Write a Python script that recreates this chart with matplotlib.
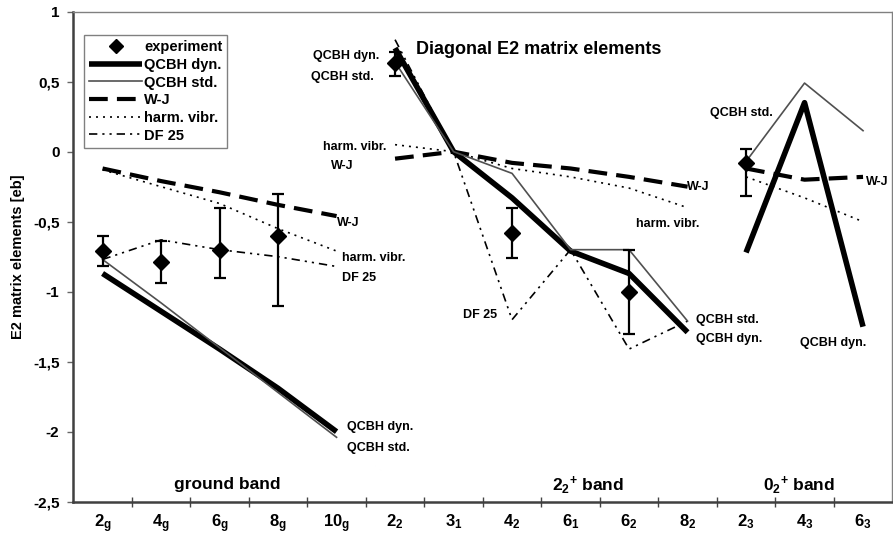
import numpy as np
import matplotlib
matplotlib.use("Agg")
import matplotlib.pyplot as plt
from matplotlib.lines import Line2D

plt.rcParams['font.family'] = ['Liberation Sans', 'DejaVu Sans']
plt.rcParams['font.weight'] = 'bold'
plt.rcParams['mathtext.fontset'] = 'custom'
plt.rcParams['mathtext.rm'] = 'Liberation Sans:bold'
plt.rcParams['mathtext.bf'] = 'Liberation Sans:bold'
plt.rcParams['mathtext.it'] = 'Liberation Sans:bold'

nan = np.nan

# States (category axis)
states = [r'$\mathbf{2}_\mathbf{g}$', r'$\mathbf{4}_\mathbf{g}$', r'$\mathbf{6}_\mathbf{g}$',
          r'$\mathbf{8}_\mathbf{g}$', r'$\mathbf{10}_\mathbf{g}$',
          r'$\mathbf{2}_\mathbf{2}$', r'$\mathbf{3}_\mathbf{1}$', r'$\mathbf{4}_\mathbf{2}$',
          r'$\mathbf{6}_\mathbf{1}$', r'$\mathbf{6}_\mathbf{2}$', r'$\mathbf{8}_\mathbf{2}$',
          r'$\mathbf{2}_\mathbf{3}$', r'$\mathbf{4}_\mathbf{3}$', r'$\mathbf{6}_\mathbf{3}$']

# Band boundaries (index ranges) - lines are not joined across bands
bands = [(0, 5), (5, 11), (11, 14)]
band_names = ['ground band', r'$\mathbf{2}_\mathbf{2}{}^\mathbf{+}$ band', r'$\mathbf{0}_\mathbf{2}{}^\mathbf{+}$ band']
band_label_x = [2.14, 8.30, 11.91]

# Experimental values with asymmetric errors
exp_val = [-0.71, -0.79, -0.70, -0.60, nan, 0.63, nan, -0.58, nan, -1.00, nan, -0.08, nan, nan]
exp_err_lo = [0.11, 0.15, 0.20, 0.50, nan, 0.09, nan, 0.18, nan, 0.30, nan, 0.24, nan, nan]
exp_err_hi = [0.11, 0.15, 0.30, 0.30, nan, 0.08, nan, 0.18, nan, 0.30, nan, 0.10, nan, nan]

# Model calculations
qcbh_dyn = [-0.87, -1.14, -1.41, -1.69, -2.00, 0.74, 0.00, -0.33, -0.71, -0.87, -1.29, -0.72, 0.35, -1.25]
qcbh_std = [-0.77, -1.08, -1.40, -1.72, -2.04, 0.64, 0.00, -0.155, -0.70, -0.70, -1.21, -0.07, 0.49, 0.15]
wj = [-0.12, -0.21, -0.29, -0.38, -0.46, -0.05, 0.00, -0.08, -0.12, -0.18, -0.25, -0.12, -0.20, -0.18]
harm_vibr = [-0.13, -0.25, -0.37, -0.55, -0.71, 0.05, 0.00, -0.12, -0.18, -0.26, -0.40, -0.18, -0.33, -0.50]
df25 = [-0.77, -0.63, -0.70, -0.75, -0.82, 0.80, 0.00, -1.20, -0.70, -1.41, -1.21, nan, nan, nan]

yticks = [1, 0.5, 0, -0.5, -1, -1.5, -2, -2.5]
ytick_labels = ['1', '0,5', '0', '-0,5', '-1', '-1,5', '-2', '-2,5']

fig = plt.figure(figsize=(8.93, 5.38), dpi=100)
ax = fig.add_axes([0.0821, 0.0675, 0.9171, 0.9108])

x = np.arange(len(states))

styles = {
    'QCBH dyn.': dict(color='black', lw=4.0, ls='-', solid_capstyle='butt'),
    'QCBH std.': dict(color='#505050', lw=1.2, ls='-'),
    'W-J': dict(color='black', lw=3.0, ls=(0, (4.5, 2.2))),
    'harm. vibr.': dict(color='black', lw=1.2, ls=(0, (1.2, 3))),
    'DF 25': dict(color='black', lw=1.2, ls=(0, (5, 3, 1.3, 3, 1.3, 3))),
}
series = {'QCBH dyn.': qcbh_dyn, 'QCBH std.': qcbh_std, 'W-J': wj,
          'harm. vibr.': harm_vibr, 'DF 25': df25}
zorders = {'QCBH dyn.': 4, 'QCBH std.': 5, 'W-J': 3, 'harm. vibr.': 3, 'DF 25': 3}

for name, vals in series.items():
    v = np.array(vals, dtype=float)
    for a, b in bands:
        seg = v[a:b]
        if np.all(np.isnan(seg)):
            continue
        ax.plot(x[a:b], seg, zorder=zorders[name], **styles[name])

ev = np.array(exp_val, dtype=float)
m = ~np.isnan(ev)
ax.errorbar(x[m], ev[m],
            yerr=[np.array(exp_err_lo)[m], np.array(exp_err_hi)[m]],
            fmt='D', color='black', ms=8, elinewidth=1.6, capsize=4.5, capthick=1.6, zorder=6)

ax.set_xlim(-0.5, 13.5)
ax.set_ylim(-2.5, 1)

# category axis: ticks between categories, labels centered
ax.set_xticks(np.arange(0.5, 13.0, 1.0))
ax.set_xticklabels([])
ax.tick_params(axis='x', which='major', direction='inout', length=7, width=1, color='#444444')
ax.set_xticks(x, minor=True)
ax.set_xticklabels(states, minor=True, fontsize=12)
ax.tick_params(axis='x', which='minor', length=0, pad=8)

ax.set_yticks(yticks)
ax.set_yticklabels(ytick_labels, fontsize=11, fontweight='bold')
ax.tick_params(axis='y', direction='out', length=4, width=1, color='#666666', pad=6)

for s in ['left', 'bottom']:
    ax.spines[s].set_color('#404040')
    ax.spines[s].set_linewidth(1.8)
for s in ['top', 'right']:
    ax.spines[s].set_color('#808080')
    ax.spines[s].set_linewidth(1.0)

ax.set_ylabel('E2 matrix elements [eb]', fontsize=10.5, fontweight='bold', labelpad=6)

ax.text(5.36, 0.73, 'Diagonal E2 matrix elements', fontsize=13, fontweight='bold',
        ha='left', va='center')

for nm, bx in zip(band_names, band_label_x):
    ax.text(bx, -2.38, nm, fontsize=12.5, fontweight='bold', ha='center', va='center')

# curve labels
curve_labels = [
    ('QCBH dyn.', 4.17, -1.97), ('QCBH std.', 4.17, -2.12),
    ('W-J', 4.00, -0.51), ('harm. vibr.', 4.10, -0.757), ('DF 25', 4.10, -0.90),
    ('QCBH dyn.', 3.59, 0.684), ('QCBH std.', 3.56, 0.536),
    ('harm. vibr.', 3.76, 0.036), ('W-J', 3.90, -0.10),
    ('DF 25', 6.17, -1.166), ('harm. vibr.', 9.12, -0.516), ('W-J', 9.99, -0.25),
    ('QCBH std.', 10.15, -1.20), ('QCBH dyn.', 10.15, -1.34),
    ('QCBH std.', 10.38, 0.274), ('W-J', 13.05, -0.214), ('QCBH dyn.', 11.92, -1.369),
]
for txt, tx, ty in curve_labels:
    ax.text(tx, ty, txt, fontsize=9, fontweight='bold', ha='left', va='center', zorder=7)

handles = [Line2D([], [], marker='D', color='black', ls='none', ms=7)]
for name in series:
    st = dict(styles[name])
    handles.append(Line2D([], [], **st))
leg = ax.legend(handles, ['experiment'] + list(series.keys()),
                loc='upper left', bbox_to_anchor=(0.0134, 0.952), borderaxespad=0,
                fancybox=False, edgecolor='#808080', framealpha=1,
                prop={'weight': 'bold', 'size': 10.5}, handlelength=3.6,
                handletextpad=0.15, labelspacing=0.25, borderpad=0.35)
leg.get_frame().set_linewidth(1.0)

fig.savefig('out.png', dpi=100)
